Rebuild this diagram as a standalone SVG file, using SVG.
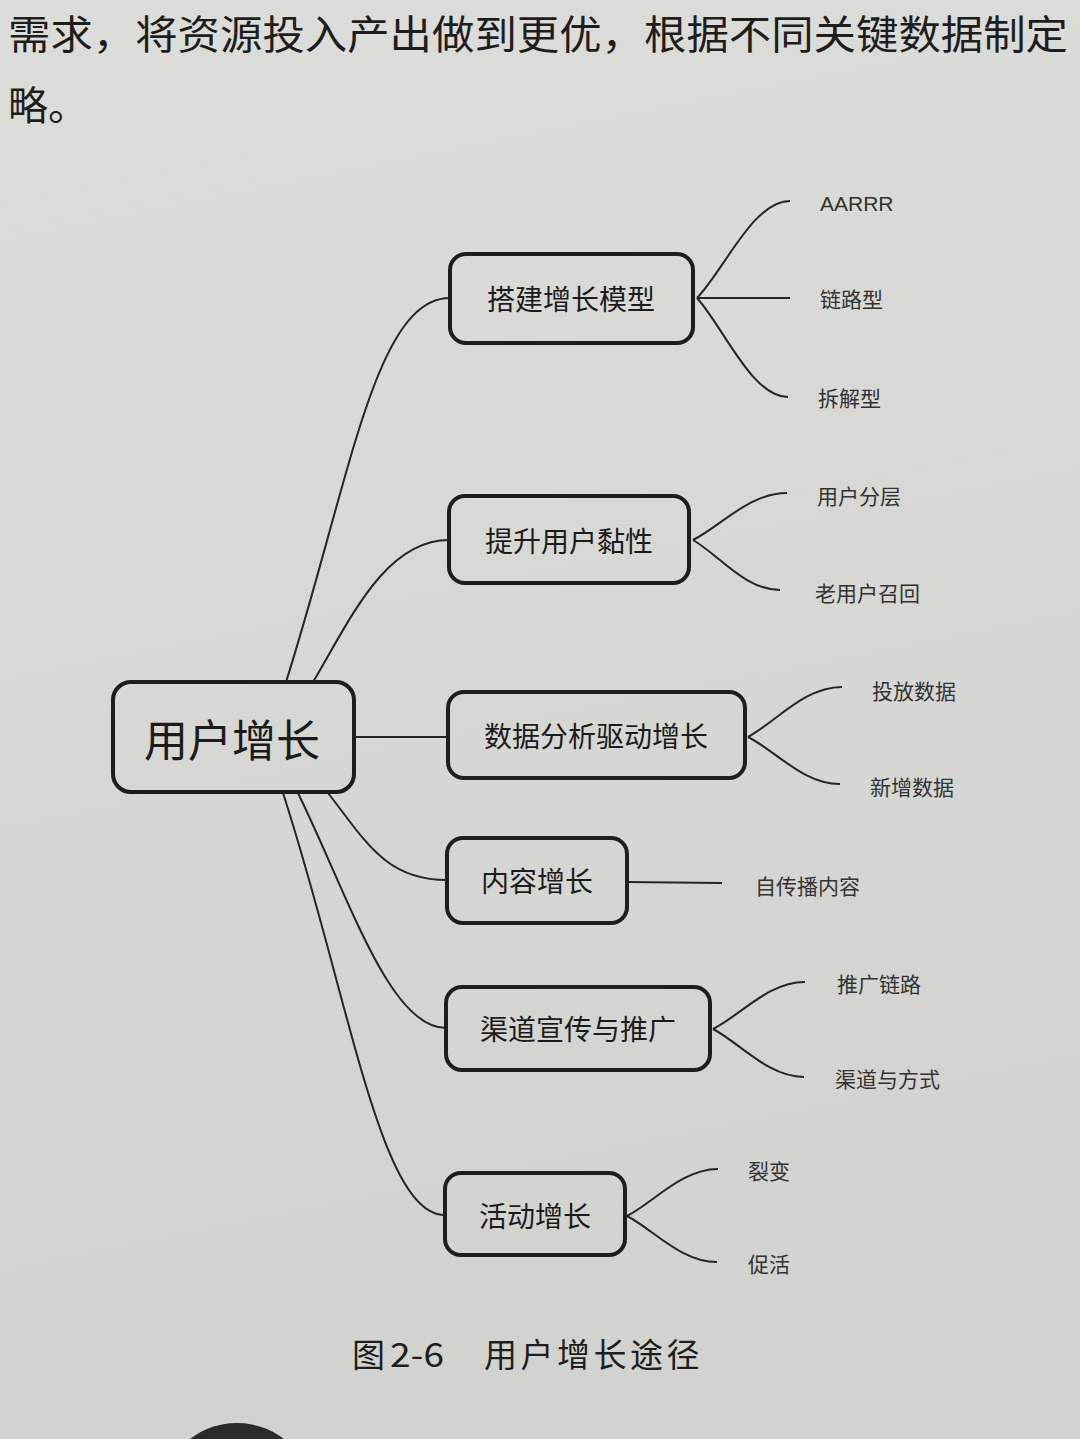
<svg xmlns="http://www.w3.org/2000/svg" width="1080" height="1439" viewBox="0 0 1080 1439">
  <defs>
    <linearGradient id="paper" x1="0" y1="0" x2="0.15" y2="1">
      <stop offset="0" stop-color="#dcdcd9"/>
      <stop offset="0.5" stop-color="#d7d8d4"/>
      <stop offset="1" stop-color="#d2d3cf"/>
    </linearGradient>
    <style>
      .box { fill: none; stroke: #1e1e1e; stroke-width: 4; }
      .conn { fill: none; stroke: #262626; stroke-width: 2; }
      .main { font-family: "Noto Sans CJK SC", "Noto Sans", sans-serif; fill: #1c1c1c; dominant-baseline: central; }
      .leaf { font-family: "Noto Sans CJK SC", "Noto Sans", sans-serif; font-size: 21px; fill: #333; dominant-baseline: central; }
      .latin { font-family: "Liberation Sans", sans-serif; }
      .body { font-family: "Noto Sans CJK SC", sans-serif; font-size: 40px; fill: #1e1e1e; }
      .cap { font-family: "Noto Sans CJK SC", sans-serif; font-size: 33px; fill: #1e1e1e; }
    </style>
  </defs>
  <rect x="0" y="0" width="1080" height="1439" fill="url(#paper)"/>

  <text class="body" x="8" y="49" textLength="1060" lengthAdjust="spacingAndGlyphs">需求，将资源投入产出做到更优，根据不同关键数据制定</text>
  <text class="body" x="8" y="120">略。</text>

  <g id="connectors">
    <path class="conn" d="M286,682 C350,480 375,298 450,298"/>
    <path class="conn" d="M313,682 C350,620 385,540 449,540"/>
    <path class="conn" d="M355,737 L448,737"/>
    <path class="conn" d="M328,793 C365,840 385,880 447,880"/>
    <path class="conn" d="M298,793 C350,900 390,1028 446,1028"/>
    <path class="conn" d="M283,793 C350,1000 380,1215 445,1215"/>

    <path class="conn" d="M697,298 C725,269 753,201 790,201"/>
    <path class="conn" d="M697,298 L790,298"/>
    <path class="conn" d="M697,298 C724,328 752,397 788,397"/>

    <path class="conn" d="M693,540 C721,526 749,493 787,493"/>
    <path class="conn" d="M693,540 C719,555 745,590 780,590"/>

    <path class="conn" d="M748,737 C776,722 804,687 842,687"/>
    <path class="conn" d="M748,737 C776,751 803,784 840,784"/>

    <path class="conn" d="M627,882 L722,883"/>

    <path class="conn" d="M713,1029 C741,1015 768,982 805,982"/>
    <path class="conn" d="M713,1029 C740,1043 768,1077 804,1077"/>

    <path class="conn" d="M627,1216 C654,1202 682,1169 718,1169"/>
    <path class="conn" d="M627,1216 C654,1230 681,1262 717,1262"/>
  </g>

  <g id="root">
    <rect class="box" x="113" y="682" width="241" height="110" rx="18"/>
    <text class="main" x="232" y="738" font-size="44" text-anchor="middle">用户增长</text>
  </g>

  <g id="n1">
    <rect class="box" x="450" y="254" width="243" height="89" rx="16"/>
    <text class="main" x="571" y="298" font-size="28" text-anchor="middle">搭建增长模型</text>
  </g>
  <g id="n2">
    <rect class="box" x="449" y="496" width="240" height="87" rx="16"/>
    <text class="main" x="569" y="540" font-size="28" text-anchor="middle">提升用户黏性</text>
  </g>
  <g id="n3">
    <rect class="box" x="448" y="692" width="297" height="86" rx="16"/>
    <text class="main" x="596" y="735" font-size="28" text-anchor="middle">数据分析驱动增长</text>
  </g>
  <g id="n4">
    <rect class="box" x="447" y="838" width="180" height="85" rx="16"/>
    <text class="main" x="537" y="880" font-size="28" text-anchor="middle">内容增长</text>
  </g>
  <g id="n5">
    <rect class="box" x="446" y="987" width="264" height="83" rx="16"/>
    <text class="main" x="578" y="1028" font-size="28" text-anchor="middle">渠道宣传与推广</text>
  </g>
  <g id="n6">
    <rect class="box" x="445" y="1173" width="180" height="82" rx="16"/>
    <text class="main" x="535" y="1215" font-size="28" text-anchor="middle">活动增长</text>
  </g>

  <g id="leaf-aarrr"><text class="leaf latin" x="820" y="203">AARRR</text></g>
  <g id="leaf-lianlu"><text class="leaf" x="820" y="298">链路型</text></g>
  <g id="leaf-chaijie"><text class="leaf" x="818" y="397">拆解型</text></g>
  <g id="leaf-fenceng"><text class="leaf" x="817" y="495">用户分层</text></g>
  <g id="leaf-zhaohui"><text class="leaf" x="815" y="592">老用户召回</text></g>
  <g id="leaf-toufang"><text class="leaf" x="872" y="690">投放数据</text></g>
  <g id="leaf-xinzeng"><text class="leaf" x="870" y="786">新增数据</text></g>
  <g id="leaf-zichuanbo"><text class="leaf" x="755" y="885">自传播内容</text></g>
  <g id="leaf-tuiguang"><text class="leaf" x="837" y="983">推广链路</text></g>
  <g id="leaf-qudao"><text class="leaf" x="835" y="1078">渠道与方式</text></g>
  <g id="leaf-liebian"><text class="leaf" x="748" y="1170">裂变</text></g>
  <g id="leaf-cuohuo"><text class="leaf" x="748" y="1263">促活</text></g>

  <g id="caption">
    <text class="cap" x="352" y="1367">图</text>
    <text class="cap" x="390" y="1367" textLength="54" lengthAdjust="spacingAndGlyphs">2-6</text>
    <text class="cap" x="484" y="1367" letter-spacing="3.5">用户增长途径</text>
  </g>

  <circle cx="237" cy="1500" r="77" fill="#2a2a2a"/>
</svg>
